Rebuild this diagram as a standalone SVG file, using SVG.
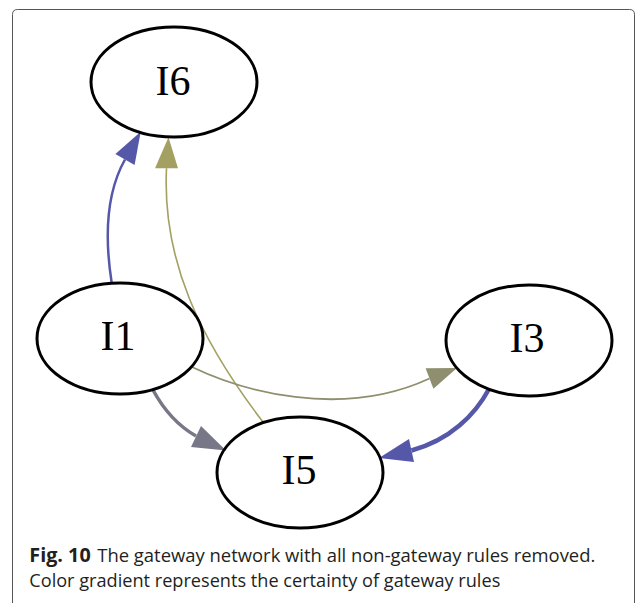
<svg xmlns="http://www.w3.org/2000/svg" width="637" height="603" viewBox="0 0 637 603">
  <style>
    .node ellipse { fill: none; stroke: #000000; stroke-width: 3; }
    .node text { font-family: "Liberation Serif", "Times New Roman", serif; font-size: 42px; fill: #000000; text-anchor: middle; }
    .edge { fill: none; }
    .cap { font-family: "Open Sans", "Liberation Sans", sans-serif; font-size: 19px; fill: #231f20; }
    .capb { font-weight: bold; }
  </style>
  <rect x="0" y="0" width="637" height="603" fill="#ffffff"/>
  <path d="M12.5,603 V14.5 Q12.5,9.5 17.5,9.5 H629.5 Q634.5,9.5 634.5,14.5 V603" fill="none" stroke="#555555" stroke-width="1"/>

  <g id="connectors">
    <g id="e-I1-I6">
      <path class="edge" d="M111.7,283 C105,240 105,195 125,159.5" stroke="#5558a8" stroke-width="2.5"/>
      <polygon points="140.7,131.7 115.4,154.1 134.6,164.9" fill="#5558a8"/>
    </g>
    <g id="e-I5-I6">
      <path class="edge" d="M263,422 C200,340 162,260 166.5,168.3" stroke="#a3a062" stroke-width="1.6"/>
      <polygon points="168.5,137.3 155,168.3 178,168.3" fill="#a3a062"/>
    </g>
    <g id="e-I1-I3">
      <path class="edge" d="M192,367 C240,390 340,420 429.5,378.5" stroke="#8f8f6f" stroke-width="1.8"/>
      <polygon points="457,368 425.6,368.2 433.4,388.8" fill="#8f8f6f"/>
    </g>
    <g id="e-I1-I5">
      <path class="edge" d="M153,390 C165,412 180,427 196,436" stroke="#777788" stroke-width="3.5"/>
      <polygon points="226,450.5 201,426 191,447" fill="#777788"/>
    </g>
    <g id="e-I3-I5">
      <path class="edge" d="M489,389 C475,415 450,440 411.5,450.5" stroke="#5558a8" stroke-width="4.5"/>
      <polygon points="379,458 409,439 414,462" fill="#5558a8"/>
    </g>
  </g>

  <g id="I6" class="node">
    <ellipse cx="174" cy="82" rx="83" ry="55"/>
    <text x="173" y="95">I6</text>
  </g>
  <g id="I1" class="node">
    <ellipse cx="120" cy="338.5" rx="83" ry="55.5"/>
    <text x="118" y="350">I1</text>
  </g>
  <g id="I3" class="node">
    <ellipse cx="529" cy="340.5" rx="83" ry="55.5"/>
    <text x="527" y="352">I3</text>
  </g>
  <g id="I5" class="node">
    <ellipse cx="300" cy="472.5" rx="83" ry="55.5"/>
    <text x="299" y="484">I5</text>
  </g>

  <g id="caption">
    <text class="cap capb" x="29.3" y="562" textLength="61.4" lengthAdjust="spacingAndGlyphs">Fig. 10</text>
    <text class="cap" x="97.3" y="562" textLength="498" lengthAdjust="spacingAndGlyphs">The gateway network with all non-gateway rules removed.</text>
    <text class="cap" x="29.3" y="586.5" textLength="471" lengthAdjust="spacingAndGlyphs">Color gradient represents the certainty of gateway rules</text>
  </g>
</svg>
